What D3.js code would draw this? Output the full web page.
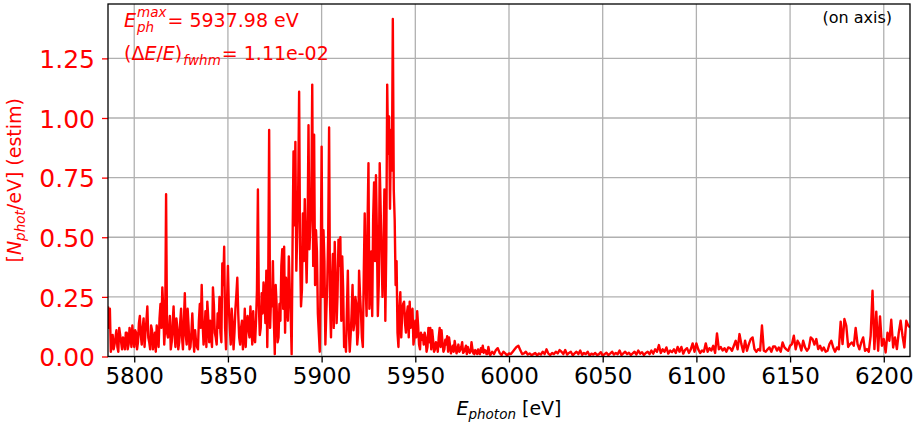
<!DOCTYPE html>
<html>
<head>
<meta charset="utf-8">
<script src="https://cdn.jsdelivr.net/npm/d3@7"></script>
<style>
  body { margin: 0; background: #fff; }
  svg { display: block; font-family: "DejaVu Sans", sans-serif; }
</style>
</head>
<body>
<div id="chart"></div>
<script>
var energyStart = 5786;
var energyStep = 1;
var flux = [
  0.21, 0.20, 0.05, 0.03, 0.08, 0.04, 0.12, 0.06, 0.08, 0.03,
  0.10, 0.05, 0.09, 0.13, 0.04, 0.10, 0.06, 0.17, 0.05, 0.16,
  0.10, 0.21, 0.06, 0.13, 0.03, 0.10, 0.13, 0.04, 0.22, 0.29,
  0.05, 0.68, 0.08, 0.17, 0.06, 0.21, 0.04, 0.12, 0.06, 0.20,
  0.03, 0.265, 0.05, 0.13, 0.04, 0.18, 0.02, 0.06, 0.03, 0.22,
  0.30, 0.05, 0.19, 0.23, 0.06, 0.08, 0.29, 0.10, 0.05, 0.12,
  0.10, 0.39, 0.46, 0.03, 0.38, 0.12, 0.20, 0.03, 0.20, 0.33,
  0.08, 0.12, 0.03, 0.20, 0.14, 0.11, 0.21, 0.05, 0.08, 0.15,
  0.70, 0.09, 0.265, 0.31, 0.14, 0.04, 0.95, 0.24, 0.40, 0.01,
  0.21, 0.08, 0.15, 0.45, 0.46, 0.33, 0.15, 0.28, 0.01, 0.86,
  0.90, 0.52, 1.11, 0.21, 0.60, 0.66, 0.31, 0.97, 0.55, 1.14,
  0.93, 0.53, 0.18, 0.02, 0.88, 0.53, 0.05, 0.30, 0.96, 0.08,
  0.43, 0.48, 0.14, 0.49, 0.50, 0.42, 0.04, 0.02, 0.36, 0.02,
  0.18, 0.11, 0.25, 0.05, 0.36, 0.18, 0.04, 0.60, 0.17, 0.81,
  0.27, 0.17, 0.73, 0.76, 0.17, 0.81, 0.42, 0.43, 0.15, 1.14,
  1.006, 0.95, 1.415, 0.57, 0.40, 0.04, 0.27, 0.18, 0.23, 0.10,
  0.21, 0.23, 0.18, 0.05, 0.15, 0.19, 0.05, 0.10, 0.09, 0.10,
  0.02, 0.12, 0.12, 0.11, 0.02, 0.06, 0.02, 0.12, 0.11, 0.02,
  0.07, 0.085, 0.08, 0.013, 0.045, 0.065, 0.013, 0.05, 0.027, 0.06,
  0.02, 0.045, 0.04, 0.015, 0.06, 0.013, 0.027, 0.01, 0.013, 0.035,
  0.045, 0.027, 0.01, 0.04, 0.006, 0.02, 0.01, 0.027, 0.035, 0.015,
  0.006, 0.02, 0.013, 0.005, 0.013, 0.01, 0.02, 0.03, 0.04, 0.045,
  0.027, 0.01, 0.013, 0.02, 0.008, 0.013, 0.006, 0.01, 0.015, 0.005,
  0.013, 0.008, 0.02, 0.01, 0.03, 0.012, 0.006, 0.015, 0.01, 0.02,
  0.013, 0.027, 0.02, 0.01, 0.027, 0.008, 0.015, 0.02, 0.005, 0.013,
  0.02, 0.01, 0.025, 0.007, 0.015, 0.01, 0.02, 0.004, 0.012, 0.008,
  0.015, 0.006, 0.01, 0.018, 0.004, 0.01, 0.016, 0.006, 0.012, 0.02,
  0.008, 0.015, 0.01, 0.025, 0.006, 0.013, 0.02, 0.01, 0.016, 0.006,
  0.013, 0.02, 0.008, 0.025, 0.012, 0.018, 0.006, 0.015, 0.02, 0.01,
  0.025, 0.012, 0.03, 0.02, 0.048, 0.015, 0.03, 0.02, 0.038, 0.012,
  0.025, 0.018, 0.03, 0.015, 0.04, 0.02, 0.04, 0.012, 0.028, 0.035,
  0.015, 0.03, 0.055, 0.02, 0.055, 0.03, 0.015, 0.025, 0.02, 0.055,
  0.02, 0.035, 0.025, 0.045, 0.015, 0.097, 0.03, 0.04, 0.025, 0.035,
  0.02, 0.038, 0.035, 0.024, 0.045, 0.066, 0.03, 0.094, 0.052, 0.02,
  0.066, 0.024, 0.052, 0.073, 0.08, 0.031, 0.02, 0.031, 0.025, 0.13,
  0.024, 0.02, 0.03, 0.038, 0.02, 0.042, 0.042, 0.025, 0.038, 0.02,
  0.059, 0.038, 0.03, 0.024, 0.045, 0.052, 0.087, 0.03, 0.066, 0.052,
  0.025, 0.066, 0.038, 0.024, 0.035, 0.08, 0.073, 0.05, 0.073, 0.031,
  0.045, 0.025, 0.038, 0.02, 0.024, 0.052, 0.066, 0.038, 0.02, 0.038,
  0.03, 0.146, 0.052, 0.157, 0.129, 0.04, 0.052, 0.059, 0.045, 0.12,
  0.052, 0.03, 0.059, 0.08, 0.024, 0.031, 0.02, 0.087, 0.276, 0.031,
  0.188, 0.024, 0.168, 0.045, 0.073, 0.017, 0.10, 0.066, 0.154, 0.038,
  0.08, 0.031, 0.10, 0.15, 0.087, 0.038, 0.15, 0.13, 0.122
];

// extra half-eV samples where the trace is busy (5786.5 ... 5989.5 eV)
var midStart = 5786.5;
var fluxMid = [
  0.12, 0.02, 0.09, 0.05, 0.11, 0.02, 0.09, 0.03, 0.07, 0.10,
  0.03, 0.12, 0.04, 0.08, 0.11, 0.03, 0.14, 0.09, 0.12, 0.04,
  0.15, 0.08, 0.03, 0.11, 0.07, 0.02, 0.09, 0.16, 0.12, 0.20,
  0.12, 0.10, 0.10, 0.03, 0.14, 0.09, 0.16, 0.03, 0.14, 0.08,
  0.15, 0.09, 0.20, 0.03, 0.10, 0.08, 0.11, 0.04, 0.15, 0.12,
  0.14, 0.10, 0.04, 0.16,
  0.15, 0.04, 0.22, 0.08, 0.18, 0.25, 0.06, 0.30, 0.12, 0.22,
  0.20, 0.05, 0.14, 0.10, 0.26, 0.18, 0.05, 0.15, 0.09, 0.04,
  0.17, 0.08, 0.13, 0.19, 0.06, 0.28, 0.22, 0.12, 0.18, 0.25,
  0.36, 0.30, 0.12, 0.21, 0.16, 0.30, 0.06, 0.22, 0.38, 0.20,
  0.10, 0.24, 0.42, 0.18, 0.48, 0.55, 0.36, 0.70, 0.45, 0.28,
  0.40, 0.48, 0.52, 0.45, 0.66, 0.38, 0.30, 0.44, 0.10, 0.35,
  0.25, 0.40, 0.18, 0.50, 0.22, 0.31, 0.12, 0.33, 0.26, 0.38,
  0.15, 0.28, 0.08, 0.20, 0.12, 0.09, 0.30, 0.14, 0.22, 0.10,
  0.26, 0.08, 0.35, 0.30, 0.55, 0.20, 0.44, 0.58, 0.40, 0.52,
  0.30, 0.62, 0.25, 0.70, 0.45, 0.85, 0.62, 0.78, 0.70, 0.30,
  0.10, 0.20, 0.08, 0.22, 0.14, 0.18, 0.08, 0.12, 0.20, 0.08,
  0.08, 0.13, 0.03, 0.07, 0.05, 0.08, 0.04, 0.06, 0.03, 0.07,
  0.03, 0.05, 0.08, 0.04, 0.06, 0.03, 0.05, 0.02, 0.05, 0.03,
  0.02, 0.04, 0.03, 0.02, 0.04, 0.015, 0.03, 0.01, 0.025, 0.02,
  0.03, 0.01, 0.02, 0.03, 0.01, 0.02, 0.015, 0.025, 0.01, 0.02
];

var xTicks = [5800, 5850, 5900, 5950, 6000, 6050, 6100, 6150, 6200];
var yTicks = [0, 0.25, 0.5, 0.75, 1.0, 1.25];
var xDomain = [5786, 6214];
var yDomain = [0, 1.478];

var data = flux.map(function (v, i) {
  return { e: energyStart + i * energyStep, n: v };
}).concat(fluxMid.map(function (v, i) {
  return { e: midStart + i, n: v };
}));
data.sort(function (a, b) { return a.e - b.e; });

var width = 922, height = 426;
// plot box (note: "top" is a reserved window property, so use box* names)
var boxLeft = 108, boxRight = 910, boxTop = 4, boxBottom = 356.5;

var svg = d3.select("#chart").append("svg")
  .attr("width", width)
  .attr("height", height);

svg.append("rect")
  .attr("width", width)
  .attr("height", height)
  .attr("fill", "#fff");

var x = d3.scaleLinear().domain(xDomain).range([boxLeft, boxRight]);
var y = d3.scaleLinear().domain(yDomain).range([boxBottom, boxTop]);

// grid
svg.append("g").selectAll("line").data(xTicks).enter().append("line")
  .attr("x1", function (d) { return x(d); })
  .attr("x2", function (d) { return x(d); })
  .attr("y1", boxTop).attr("y2", boxBottom)
  .attr("stroke", "#b0b0b0").attr("stroke-width", 1.3);

svg.append("g").selectAll("line").data(yTicks).enter().append("line")
  .attr("y1", function (d) { return y(d); })
  .attr("y2", function (d) { return y(d); })
  .attr("x1", boxLeft).attr("x2", boxRight)
  .attr("stroke", "#b0b0b0").attr("stroke-width", 1.3);

// spectrum line, clipped to the axes box
svg.append("clipPath").attr("id", "plotclip")
  .append("rect")
  .attr("x", boxLeft).attr("y", boxTop)
  .attr("width", boxRight - boxLeft).attr("height", boxBottom - boxTop);

var line = d3.line()
  .x(function (d) { return x(d.e); })
  .y(function (d) { return y(d.n); });

svg.append("path")
  .datum(data)
  .attr("clip-path", "url(#plotclip)")
  .attr("d", line)
  .attr("fill", "none")
  .attr("stroke", "#ff0000")
  .attr("stroke-width", 2.4)
  .attr("stroke-linejoin", "round");

// x axis
var xAxis = d3.axisBottom(x).tickValues(xTicks).tickSize(6).tickPadding(5)
  .tickFormat(d3.format("d"));
var gx = svg.append("g")
  .attr("transform", "translate(0," + boxBottom + ")")
  .call(xAxis);
gx.select(".domain").remove();
gx.selectAll("line").attr("stroke", "#000").attr("stroke-width", 1.3);
gx.selectAll("text")
  .attr("font-size", 23)
  .attr("font-family", "DejaVu Sans")
  .attr("fill", "#000");

// y axis, red
var yAxis = d3.axisLeft(y).tickValues(yTicks).tickSize(6).tickPadding(7)
  .tickFormat(d3.format(".2f"));
var gy = svg.append("g")
  .attr("transform", "translate(" + boxLeft + ",0)")
  .call(yAxis);
gy.select(".domain").remove();
gy.selectAll("line").attr("stroke", "#ff0000").attr("stroke-width", 1.3);
gy.selectAll("text")
  .attr("font-size", 25)
  .attr("font-family", "DejaVu Sans")
  .attr("fill", "#ff0000")
  .attr("dy", "0.37em");

// frame
svg.append("rect")
  .attr("x", boxLeft).attr("y", boxTop)
  .attr("width", boxRight - boxLeft).attr("height", boxBottom - boxTop)
  .attr("fill", "none")
  .attr("stroke", "#000")
  .attr("stroke-width", 1.3);

// axis labels
var xl = svg.append("text")
  .attr("x", (boxLeft + boxRight) / 2)
  .attr("y", 415)
  .attr("text-anchor", "middle")
  .attr("font-size", 19)
  .attr("fill", "#000");
xl.append("tspan").attr("font-style", "italic").text("E");
xl.append("tspan").attr("font-style", "italic").attr("font-size", 13.5).attr("dy", 4).text("photon");
xl.append("tspan").attr("dy", -4).text(" [eV]");

var yl = svg.append("text")
  .attr("transform", "translate(21," + ((boxTop + boxBottom) / 2) + ") rotate(-90)")
  .attr("text-anchor", "middle")
  .attr("font-size", 19)
  .attr("fill", "#ff0000");
yl.append("tspan").text("[");
yl.append("tspan").attr("font-style", "italic").text("N");
yl.append("tspan").attr("font-style", "italic").attr("font-size", 13.5).attr("dy", 4).text("phot");
yl.append("tspan").attr("dy", -4).text("/eV] (estim)");

// annotations: E_ph^max and relative bandwidth
function scriptLabel(x0, y0, parts, sup, sub, rest) {
  var g = svg.append("g").attr("fill", "#ff0000").attr("font-size", 19);
  var t1 = g.append("text").attr("x", x0).attr("y", y0);
  parts.forEach(function (p) {
    t1.append("tspan").attr("font-style", p[1] ? "italic" : "normal").text(p[0]);
  });
  var w1 = t1.node().getComputedTextLength();
  var wSup = 0, wSub = 0;
  if (sup) {
    var t2 = g.append("text").attr("x", x0 + w1 + 1).attr("y", y0 - 10)
      .attr("font-style", "italic").attr("font-size", 13.5).text(sup);
    wSup = t2.node().getComputedTextLength();
  }
  if (sub) {
    var t3 = g.append("text").attr("x", x0 + w1 + 1).attr("y", y0 + 5)
      .attr("font-style", "italic").attr("font-size", 13.5).text(sub);
    wSub = t3.node().getComputedTextLength();
  }
  g.append("text").attr("x", x0 + w1 + 2 + Math.max(wSup, wSub)).attr("y", y0)
    .text(rest);
}

scriptLabel(124, 27, [["E", true]], "max", "ph", "= 5937.98 eV");
scriptLabel(124, 60, [["(\u0394", false], ["E", true], ["/", false], ["E", true], [")", false]],
  null, "fwhm", "= 1.11e-02");

svg.append("text")
  .attr("x", 892).attr("y", 23)
  .attr("text-anchor", "end")
  .attr("font-size", 16)
  .attr("fill", "#000")
  .text("(on axis)");
</script>
</body>
</html>
